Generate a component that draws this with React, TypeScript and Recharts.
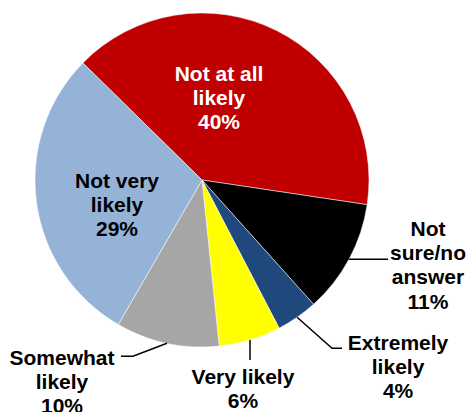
import React from 'react';
import { PieChart, Pie, Cell } from 'recharts';

// Survey answers, clockwise from the top-left
const categories = [
  'Not at all likely',
  'Not sure/no answer',
  'Extremely likely',
  'Very likely',
  'Somewhat likely',
  'Not very likely',
];
const values = [40, 11, 4, 6, 10, 29];
const labelText = [
  ['Not at all', 'likely'],
  ['Not', 'sure/no', 'answer'],
  ['Extremely', 'likely'],
  ['Very likely'],
  ['Somewhat', 'likely'],
  ['Not very', 'likely'],
];

const COLORS = ['#C00000', '#000000', '#1F497D', '#FFFF00', '#A6A6A6', '#95B3D7'];
const TEXT_COLORS = ['#FFFFFF', '#000000', '#000000', '#000000', '#000000', '#000000'];

// label placement: inside labels relative to centre, outside ones relative to the slice edge
const LABEL_LAYOUT = [
  { inside: true, tx: 17, ty: -107 },
  { inside: false, path: [[0, 0], [39, 0]], tx: 79, ty: -31 },
  { inside: false, path: [[0, 0], [35, 31], [45, 31]], tx: 101, ty: 25 },
  { inside: false, path: [[0, 0], [0, 20]], tx: -7, ty: 36 },
  { inside: false, path: [[0, 0], [-34, 13], [-46, 13]], tx: -105, ty: 14 },
  { inside: true, tx: -85, ty: 0 },
];

const data = categories.map((name, i) => ({ name, value: values[i] }));

const RADIAN = Math.PI / 180;
const FONT = 21;
const LINE_H = 24.3;

const renderLabel = (props: any) => {
  const { cx, cy, midAngle, outerRadius, index, value } = props;
  const layout = LABEL_LAYOUT[index];
  const lines = [...labelText[index], `${value}%`];
  let ox = cx;
  let oy = cy;
  let leader = null;
  if (!layout.inside) {
    ox = cx + outerRadius * Math.cos(-midAngle * RADIAN);
    oy = cy + outerRadius * Math.sin(-midAngle * RADIAN);
    const pts = layout.path!.map(([dx, dy]) => `${ox + dx},${oy + dy}`).join(' ');
    leader = <polyline points={pts} fill="none" stroke="#000" strokeWidth={1.5} />;
  }
  const x = ox + layout.tx;
  const y0 = oy + layout.ty + FONT * 0.36;
  return (
    <g key={`label-${index}`}>
      {leader}
      <text
        x={x}
        y={y0}
        textAnchor="middle"
        fill={TEXT_COLORS[index]}
        fontSize={FONT}
        fontWeight="bold"
        fontFamily="Arial, 'Liberation Sans', sans-serif"
      >
        {lines.map((l, i) => (
          <tspan key={i} x={x} y={y0 + i * LINE_H}>
            {l}
          </tspan>
        ))}
      </text>
    </g>
  );
};

const App: React.FC = () => {
  return (
    <div style={{ position: 'absolute', left: 0, top: 0, width: 471, height: 412, background: '#fff' }}>
      <PieChart width={471} height={412} margin={{ top: 0, right: 0, bottom: 0, left: 0 }}>
        <Pie
          data={data}
          dataKey="value"
          nameKey="name"
          cx={202}
          cy={180}
          outerRadius={167}
          startAngle={135.5}
          endAngle={-224.5}
          stroke="#FFFFFF"
          strokeWidth={0.5}
          label={renderLabel}
          labelLine={false}
          isAnimationActive={false}
        >
          {data.map((_, index) => (
            <Cell key={`cell-${index}`} fill={COLORS[index]} />
          ))}
        </Pie>
      </PieChart>
    </div>
  );
};

export default App;
